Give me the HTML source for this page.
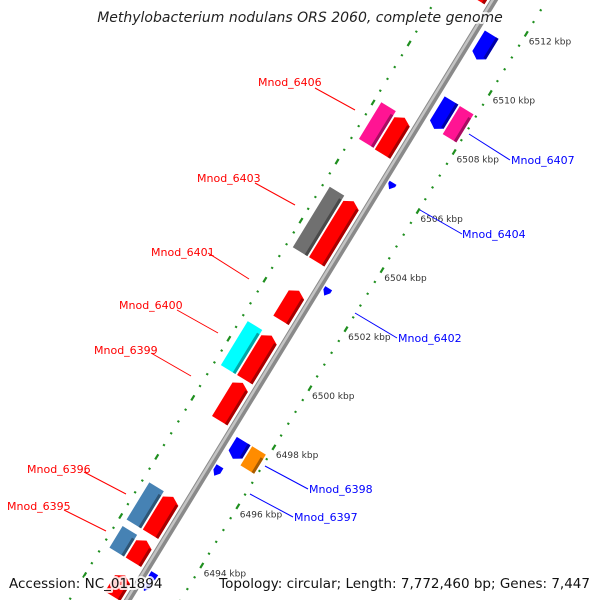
<!DOCTYPE html>
<html><head><meta charset="utf-8">
<style>
html,body{margin:0;padding:0;background:#fff;overflow:hidden;width:600px;height:600px;}
svg{display:block;font-family:"DejaVu Sans","Liberation Sans",sans-serif;}
.halo{paint-order:stroke;stroke:rgba(255,255,255,0.85);stroke-width:4px;stroke-linejoin:round;}
</style></head>
<body>
<svg id="map" width="600" height="600" viewBox="0 0 600 600" xmlns="http://www.w3.org/2000/svg">
<rect width="600" height="600" fill="#fff"/>
<g id="rot" transform="translate(165,543) rotate(-58.6)"></g>
<g id="scr"></g>
<text class="halo" x="300" y="22" text-anchor="middle" font-style="italic" font-size="14" fill="#222">Methylobacterium nodulans ORS 2060, complete genome</text>
<text class="halo" x="9" y="588" font-size="13.5" fill="#111">Accession: NC_011894</text>
<text class="halo" x="590" y="588" text-anchor="end" font-size="13.5" fill="#111">Topology: circular; Length: 7,772,460 bp; Genes: 7,447</text>
</svg>
<script>
// ---- data (kbp) ----
const featStart  = [6493.05, 6494.0, 6497.84, 6499.23, 6501.24, 6503.22, 6506.87, 6512.1, 6491.9, 6493.05, 6494.0, 6499.23, 6503.22, 6506.89, 6508.27, 6510.62, 6506.1, 6502.5, 6497.1, 6497.05, 6496.4, 6492.8, 6492.5, 6508.27];
const featEnd    = [6493.78, 6495.26, 6499.12, 6500.72, 6502.24, 6505.27, 6508.1, 6514.5, 6492.6, 6493.78, 6495.26, 6500.72, 6505.27, 6508.13, 6509.23, 6511.46, 6506.32, 6502.75, 6497.7, 6497.7, 6496.72, 6493.1, 6492.75, 6509.22];
const featStrand = [1,1,1,1,1,1,1,1,1, 0,0,0,0,0, -1,-1,-1,-1,-1,0,-1,-1,-1,0];
const featTrack  = ["in","in","in","in","in","in","in","in","in","out","out","out","out","out","rin","rin","tiny","tiny","rin","rout","tiny","tiny","tiny","rout"];
const featColor  = ["#ff0000","#ff0000","#ff0000","#ff0000","#ff0000","#ff0000","#ff0000","#ff0000","#ff0000","#4682b4","#4682b4","#00ffff","#707070","#ff1493","#0000ff","#0000ff","#0000ff","#0000ff","#0000ff","#ff8c00","#0000ff","#0000ff","#0000ff","#ff1493"];
const featName   = ["cds-6395","cds-6396","cds-6399","cds-6400","cds-6401","cds-6403","cds-6406","cds-top","cds-bottom","gene-6395","gene-6396","gene-6400","gene-6403","gene-6406","cds-6407","cds-top-reverse","cds-6404","cds-6402","cds-6398","gene-6398","cds-6397","cds-bottom-a","cds-bottom-b","gene-6407"];
const tickKbp    = [6494, 6496, 6498, 6500, 6502, 6504, 6506, 6508, 6510, 6512];
const tickLabels = ["6494 kbp","6496 kbp","6498 kbp","6500 kbp","6502 kbp","6504 kbp","6506 kbp","6508 kbp","6510 kbp","6512 kbp"];
const labelText  = ["Mnod_6406","Mnod_6403","Mnod_6401","Mnod_6400","Mnod_6399","Mnod_6396","Mnod_6395","Mnod_6407","Mnod_6404","Mnod_6402","Mnod_6398","Mnod_6397"];

// ---- scales ----
const ORIGIN = 6494, PX = 34.6;
const xS = k => (k - ORIGIN) * PX;
const toScreen = (k, off) => [165 + xS(k)*0.522 + off*0.853, 543 - xS(k)*0.854 + off*0.521];
const TRACK = {in:[-26,-8], out:[-45,-28], rin:[6,22], rout:[24,40], tiny:[3,11]};
const NS = "http://www.w3.org/2000/svg";
const rot = document.getElementById('rot');
const scr = document.getElementById('scr');
function mk(tag, attrs, parent){const e=document.createElementNS(NS,tag);for(const k in attrs)e.setAttribute(k,attrs[k]);parent.appendChild(e);return e;}

// dotted tracks
for (let k = 6490; k <= 6516.01; k += 0.4) {
  const kk = Math.round(k*10)/10;
  const major = Math.abs(kk/2 - Math.round(kk/2)) < 0.01;
  [43, -52].forEach(off => {
    const d = mk('rect', {x: xS(kk) - (major?3:1), y: off - 1, width: major?6:2, height: 2.2, fill: '#1f8f1f'}, rot);
    
    
  });
}
// backbone
const bb = mk('rect', {x: xS(6488), y: -5.5, width: xS(6518)-xS(6488), height: 7, fill: '#8a8a8a'}, rot);


const bb2 = mk('rect', {x: xS(6488), y: -4.5, width: xS(6518)-xS(6488), height: 2.5, fill: '#c4c4c4'}, rot);



// features
function shade(c){const n=parseInt(c.slice(1),16);const r=(n>>16)&255,g=(n>>8)&255,b=n&255;return 'rgb('+Math.round(r*0.65)+','+Math.round(g*0.65)+','+Math.round(b*0.65)+')';}
for (let i = 0; i < featStart.length; i++) {
  const x1 = xS(featStart[i]), x2 = xS(featEnd[i]);
  const [ya, yb] = TRACK[featTrack[i]];
  const ym = (ya + yb) / 2;
  const t = Math.min(5, (x2 - x1));
  let pts;
  if (featStrand[i] === 1) pts = [[x1,ya],[x2-t,ya],[x2,ym],[x2-t,yb],[x1,yb]];
  else if (featStrand[i] === -1) pts = [[x1+t,ya],[x2,ya],[x2,yb],[x1+t,yb],[x1,ym]];
  else pts = [[x1,ya],[x2,ya],[x2,yb],[x1,yb]];
  const p = mk('polygon', {points: pts.map(q=>q.join(',')).join(' '), fill: featColor[i]}, rot);
  
  
  if (featTrack[i] !== 'tiny') {
    const sd = mk('rect', {x: x1 + (featStrand[i]===-1 ? t : 0), y: yb - 3, width: Math.max(0, x2 - x1 - t), height: 3, fill: shade(featColor[i])}, rot);
    
    
  }
}

// tick labels
for (let i = 0; i < tickKbp.length; i++) {
  const [sx, sy] = toScreen(tickKbp[i], 43);
  const tx = mk('text', {x: sx + 2, y: sy + 11, 'font-size': 9, fill: '#333'}, scr);
  tx.textContent = tickLabels[i];
  
  
}

// gene labels with leader lines (screen positions)
const LBL = [
  [258,86,'red',315,88,355,110],
  [197,182,'red',255,183,295,205],
  [151,256,'red',208,253,249,279],
  [119,309,'red',177,310,218,333],
  [94,354,'red',151,353,191,376],
  [27,473,'red',84,472,126,494],
  [7,510,'red',64,510,106,531],
  [511,164,'blue',469,134,510,160],
  [462,238,'blue',420,210,462,234],
  [398,342,'blue',355,313,397,338],
  [309,493,'blue',265,466,308,489],
  [294,521,'blue',250,494,293,517]
];
for (let i = 0; i < LBL.length; i++) {
  const L = LBL[i];
  const col = L[2] === 'red' ? '#ff0000' : '#0000ff';
  const ln = mk('line', {x1: L[3], y1: L[4], x2: L[5], y2: L[6], stroke: col, 'stroke-width': 1}, scr);
  
  
  const tx = mk('text', {x: L[0], y: L[1], 'font-size': 11, fill: col}, scr);
  tx.textContent = labelText[i];
  
  
}
</script>
</body></html>
